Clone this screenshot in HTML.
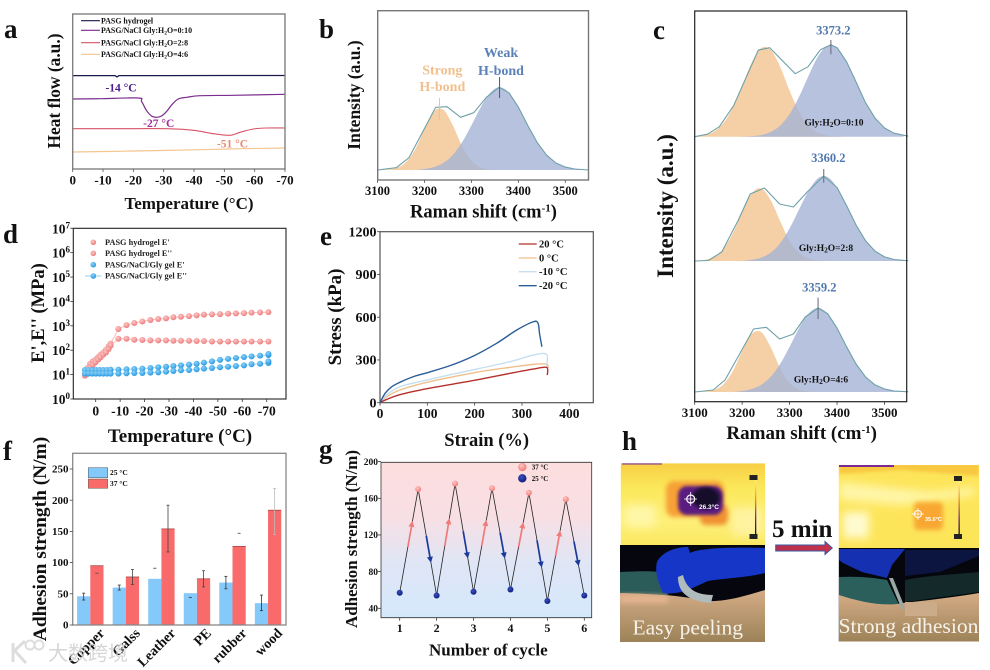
<!DOCTYPE html>
<html lang="en">
<head>
<meta charset="utf-8">
<title>Hydrogel characterization figure</title>
<style>
html,body{margin:0;padding:0;background:#fff;}
svg{display:block;font-family:"Liberation Serif","Noto Serif CJK SC",serif;filter:blur(0.3px);}
text{font-weight:bold;fill:#111;}
.nb{font-weight:normal;}
</style>
</head>
<body>
<svg id="fig" xmlns="http://www.w3.org/2000/svg" width="990" height="670" viewBox="0 0 990 670">
<defs>
  <radialGradient id="ballRed" cx="40%" cy="35%" r="70%"><stop offset="0" stop-color="#fbc8c6"/><stop offset="1" stop-color="#ec7676"/></radialGradient>
  <radialGradient id="ballBlue" cx="40%" cy="35%" r="70%"><stop offset="0" stop-color="#8ed2f6"/><stop offset="1" stop-color="#1f94e2"/></radialGradient>
  <radialGradient id="ballNavy" cx="40%" cy="35%" r="70%"><stop offset="0" stop-color="#3a50c0"/><stop offset="1" stop-color="#0b1a78"/></radialGradient>
  <radialGradient id="ballPink" cx="40%" cy="35%" r="70%"><stop offset="0" stop-color="#fcc8c4"/><stop offset="1" stop-color="#f27474"/></radialGradient>
  <linearGradient id="gBg" x1="0" y1="0" x2="0" y2="1"><stop offset="0" stop-color="#fddede"/><stop offset="0.35" stop-color="#f8dfe4"/><stop offset="0.65" stop-color="#dfe6f6"/><stop offset="1" stop-color="#d4e8fb"/></linearGradient>
  <linearGradient id="arrowGrad" x1="0" y1="0" x2="1" y2="0"><stop offset="0" stop-color="#b8304e"/><stop offset="1" stop-color="#c8304a"/></linearGradient>
  <linearGradient id="skinL" x1="0" y1="0" x2="0" y2="1"><stop offset="0" stop-color="#d4ac86"/><stop offset="1" stop-color="#9c8258"/></linearGradient>
  <linearGradient id="thermL" x1="0" y1="0" x2="0" y2="1"><stop offset="0" stop-color="#f8cf45"/><stop offset="0.3" stop-color="#fbe85a"/><stop offset="0.7" stop-color="#fdf07a"/><stop offset="1" stop-color="#fbe860"/></linearGradient>
  <linearGradient id="scaleBar" x1="0" y1="0" x2="0" y2="1"><stop offset="0" stop-color="#fff7a0"/><stop offset="0.35" stop-color="#f09030"/><stop offset="0.7" stop-color="#6a2a80"/><stop offset="1" stop-color="#111"/></linearGradient>
  <filter id="blur2" x="-40%" y="-40%" width="180%" height="180%"><feGaussianBlur stdDeviation="2.5"/></filter>
  <filter id="blur3" x="-50%" y="-50%" width="200%" height="200%"><feGaussianBlur stdDeviation="4.5"/></filter>
  <filter id="blur1" x="-30%" y="-30%" width="160%" height="160%"><feGaussianBlur stdDeviation="1.5"/></filter>
  <clipPath id="clipT1"><rect x="620.7" y="463.3" width="144.3" height="81.7"/></clipPath>
  <clipPath id="clipP1"><rect x="620" y="545" width="145" height="97"/></clipPath>
  <clipPath id="clipT2"><rect x="838.7" y="465" width="140.3" height="83"/></clipPath>
  <clipPath id="clipP2"><rect x="838.7" y="548" width="140.3" height="93.5"/></clipPath>
</defs>
<rect x="0" y="0" width="990" height="670" fill="#fff"/>

<g font-size="27">
  <text x="4" y="38">a</text>
  <text x="319" y="38">b</text>
  <text x="653" y="39">c</text>
  <text x="3" y="243">d</text>
  <text x="320" y="245">e</text>
  <text x="3" y="460">f</text>
  <text x="319" y="458">g</text>
  <text x="622" y="450">h</text>
</g>

<!-- PANEL A -->
<g id="panelA">
  <g id="marksA"></g>
  <rect x="72.7" y="14" width="212.3" height="155" fill="none" stroke="#808080" stroke-width="1.4"/>
  <g id="ticksA"></g>
  <text x="189" y="209" font-size="17" text-anchor="middle">Temperature (°C)</text>
  <text transform="translate(60,91) rotate(-90)" font-size="17.4" text-anchor="middle">Heat flow (a.u.)</text>
  <g font-size="7.9">
    <line x1="81" x2="100" y1="20.7" y2="20.7" stroke="#1a1a4a" stroke-width="1.1"/>
    <text x="101" y="23.4">PASG hydrogel</text>
    <line x1="81" x2="100" y1="30.3" y2="30.3" stroke="#7b2d8e" stroke-width="1.1"/>
    <text x="101" y="33">PASG/NaCl Gly:H<tspan dy="1.5" font-size="5.5">2</tspan><tspan dy="-1.5">O=0:10</tspan></text>
    <line x1="81" x2="100" y1="42.7" y2="42.7" stroke="#d8546a" stroke-width="1.1"/>
    <text x="101" y="45.4">PASG/NaCl Gly:H<tspan dy="1.5" font-size="5.5">2</tspan><tspan dy="-1.5">O=2:8</tspan></text>
    <line x1="81" x2="100" y1="54.3" y2="54.3" stroke="#f4c690" stroke-width="1.1"/>
    <text x="101" y="57">PASG/NaCl Gly:H<tspan dy="1.5" font-size="5.5">2</tspan><tspan dy="-1.5">O=4:6</tspan></text>
  </g>
  <text x="121" y="91.5" font-size="11.5" text-anchor="middle" style="fill:#4a1a8c">-14 °C</text>
  <text x="158.7" y="127" font-size="11.5" text-anchor="middle" style="fill:#a0309a">-27 °C</text>
  <text x="232.5" y="147.5" font-size="11.5" text-anchor="middle" style="fill:#e88a70">-51 °C</text>
</g>

<!-- PANEL B -->
<g id="panelB">
  <g id="marksB"></g>
  <rect x="377.7" y="10.7" width="210.8" height="169.3" fill="none" stroke="#777" stroke-width="1.4"/>
  <g id="ticksB"></g>
  <text x="483.5" y="217.5" font-size="18.5" text-anchor="middle">Raman shift (cm<tspan dy="-6" font-size="11">-1</tspan><tspan dy="6">)</tspan></text>
  <text transform="translate(360,95) rotate(-90)" font-size="17.5" text-anchor="middle">Intensity (a.u.)</text>
  <g font-size="14" text-anchor="middle">
    <text x="442.3" y="74.5" style="fill:#f0c08e">Strong</text>
    <text x="442.3" y="91" style="fill:#f0c08e">H-bond</text>
    <text x="501" y="57" style="fill:#5b82b8">Weak</text>
    <text x="501" y="75" style="fill:#5b82b8">H-bond</text>
  </g>
</g>

<!-- PANEL C -->
<g id="panelC">
  <g id="marksC"></g>
  <rect x="694.7" y="11" width="212" height="390.7" fill="none" stroke="#222" stroke-width="1.2"/>
  <g id="ticksC"></g>
  <text x="801.7" y="439" font-size="19" text-anchor="middle">Raman shift (cm<tspan dy="-6" font-size="11">-1</tspan><tspan dy="6">)</tspan></text>
  <text transform="translate(673,206) rotate(-90)" font-size="23" text-anchor="middle">Intensity (a.u.)</text>
  <g font-size="12.5" text-anchor="middle" style="fill:#4f78ae">
    <text x="833.3" y="34.5" style="fill:#4f78ae">3373.2</text>
    <text x="828.3" y="162" style="fill:#4f78ae">3360.2</text>
    <text x="819.3" y="291.5" style="fill:#4f78ae">3359.2</text>
  </g>
  <g font-size="9.5" text-anchor="middle">
    <text x="834" y="125.5">Gly:H<tspan dy="1.5" font-size="7">2</tspan><tspan dy="-1.5">O=0:10</tspan></text>
    <text x="826" y="251">Gly:H<tspan dy="1.5" font-size="7">2</tspan><tspan dy="-1.5">O=2:8</tspan></text>
    <text x="821" y="382.5">Gly:H<tspan dy="1.5" font-size="7">2</tspan><tspan dy="-1.5">O=4:6</tspan></text>
  </g>
</g>

<!-- PANEL D -->
<g id="panelD">
  <rect x="73.3" y="228.3" width="212.7" height="170.7" fill="none" stroke="#222" stroke-width="1.1"/>
  <g id="marksD"></g>
  <g id="ticksD"></g>
  <text x="180" y="442" font-size="19" text-anchor="middle">Temperature (°C)</text>
  <text transform="translate(44,313) rotate(-90)" font-size="18.5" text-anchor="middle">E',E'' (MPa)</text>
  <g font-size="8.3">
    <circle cx="93.3" cy="242.3" r="2.8" fill="url(#ballRed)"/>
    <text x="105" y="245" style="fill:#222">PASG hydrogel E'</text>
    <circle cx="93.3" cy="253.3" r="2.8" fill="url(#ballRed)"/>
    <text x="105" y="256" style="fill:#222">PASG hydrogel E''</text>
    <circle cx="93.3" cy="264.7" r="2.8" fill="url(#ballBlue)"/>
    <text x="105" y="267.4" style="fill:#222">PASG/NaCl/Gly gel E'</text>
    <line x1="85" x2="101.5" y1="276" y2="276" stroke="#a8dcf5" stroke-width="1.2"/>
    <circle cx="93.3" cy="276" r="2.8" fill="url(#ballBlue)"/>
    <text x="105" y="278.7" style="fill:#222">PASG/NaCl/Gly gel E''</text>
  </g>
</g>

<!-- PANEL E -->
<g id="panelE">
  <rect x="380" y="231.7" width="213.3" height="171" fill="none" stroke="#555" stroke-width="1.2"/>
  <g id="marksE"></g>
  <g id="ticksE"></g>
  <text x="486.7" y="446" font-size="18.5" text-anchor="middle">Strain (%)</text>
  <text transform="translate(341,317) rotate(-90)" font-size="18.9" text-anchor="middle">Stress (kPa)</text>
  <g font-size="10.5">
    <line x1="518.7" x2="536.7" y1="244" y2="244" stroke="#b5302c" stroke-width="1.3"/>
    <text x="539" y="247.5">20 °C</text>
    <line x1="518.7" x2="536.7" y1="258" y2="258" stroke="#f0c08c" stroke-width="1.3"/>
    <text x="539" y="261.5">0 °C</text>
    <line x1="518.7" x2="536.7" y1="271.7" y2="271.7" stroke="#c6dff0" stroke-width="1.3"/>
    <text x="539" y="275.2">-10 °C</text>
    <line x1="518.7" x2="536.7" y1="285.7" y2="285.7" stroke="#2b5d96" stroke-width="1.3"/>
    <text x="539" y="289.2">-20 °C</text>
  </g>
</g>

<!-- PANEL F -->
<g id="panelF">
  <g id="marksF"></g>
  <rect x="72.7" y="453.3" width="213.3" height="171.7" fill="none" stroke="#888" stroke-width="1.3"/>
  <g id="ticksF"></g>
  <text transform="translate(46,539) rotate(-90)" font-size="19.4" text-anchor="middle">Adhesion strength (N/m)</text>
  <g font-size="7.5">
    <rect x="88.3" y="467.7" width="19.4" height="10" fill="#85c9fb" stroke="#456" stroke-width="0.5"/>
    <text x="110" y="475.2">25 °C</text>
    <rect x="88.3" y="479" width="19.4" height="9.3" fill="#f96a6b" stroke="#654" stroke-width="0.5"/>
    <text x="110" y="486.2">37 °C</text>
  </g>
</g>

<!-- PANEL G -->
<g id="panelG">
  <rect x="381" y="462.3" width="210.7" height="155.4" fill="url(#gBg)"/>
  <path d="M381 462.3H591.7V617.7H381Z" fill="none" stroke="#333" stroke-width="0.8"/>
  <g id="marksG"></g>
  <g id="ticksG"></g>
  <text x="488.3" y="655.5" font-size="17" text-anchor="middle">Number of cycle</text>
  <text transform="translate(357,539) rotate(-90)" font-size="16.9" text-anchor="middle">Adhesion strength (N/m)</text>
  <g font-size="7">
    <circle cx="522.3" cy="467" r="4.2" fill="url(#ballPink)"/>
    <text x="531.7" y="469.6">37 °C</text>
    <circle cx="522.3" cy="478.3" r="4.2" fill="url(#ballNavy)"/>
    <text x="531.7" y="481">25 °C</text>
  </g>
</g>

<!-- PANEL H -->
<g id="panelH">
  <g clip-path="url(#clipT1)">
    <rect x="620.7" y="463.3" width="144.3" height="81.7" fill="url(#thermL)"/>
    <rect x="622" y="463.3" width="40" height="1.2" fill="#7a2a90"/>
    <rect x="625" y="505" width="30" height="22" fill="#fff7a8" filter="url(#blur3)"/>
    <rect x="732" y="508" width="30" height="28" fill="#fff3a0" filter="url(#blur3)"/>
    <rect x="666" y="481" width="58" height="36" rx="8" fill="#f6a035" filter="url(#blur2)"/>
    <rect x="700" y="505" width="28" height="20" rx="6" fill="#f09030" filter="url(#blur2)"/>
    <rect x="678" y="486" width="45" height="29" rx="9" fill="#5a1a80" filter="url(#blur1)"/>
    <ellipse cx="706" cy="498" rx="14" ry="11" fill="#14102a" filter="url(#blur1)"/>
    <circle cx="690.7" cy="499" r="4" fill="none" stroke="#fff" stroke-width="1.2"/>
    <path d="M684 499H697M690.7 492V506" stroke="#fff" stroke-width="0.8"/>
    <text x="699" y="509" font-size="6.5" style="fill:#fff;font-family:'Liberation Sans',sans-serif">26.3°C</text>
    <rect x="755" y="479" width="1.3" height="56" fill="url(#scaleBar)"/>
    <rect x="749.5" y="475" width="8" height="5" fill="#222"/>
    <rect x="749.5" y="534" width="8" height="5" fill="#222"/>
  </g>
  <g clip-path="url(#clipP1)">
    <rect x="620" y="545" width="145" height="97" fill="#06060e"/>
    <path d="M620 572C640 571 650 571 660 572L668 595H620Z" fill="#2c5c5a"/>
    <path d="M620 593C650 594 680 595 700 600C720 604 745 596 765 590V642H620Z" fill="url(#skinL)"/>
    <path d="M620 595C635 594 650 595 668 596V603H620Z" fill="#e4b490" filter="url(#blur2)"/>
    <path d="M657 562C662 552 675 547 688 547L690 553C700 548 730 547 765 548V573C745 578 725 578 708 581L688 590C680 593 670 594 663 593C660 585 654 575 657 562Z" fill="#1636c8"/>
    <path d="M678 577C678 590 685 601 711 603L713 595C695 595 686 588 683 575Z" fill="#b0bcbc"/>
    <text x="632.5" y="634.5" font-size="21.5" class="nb" style="font-weight:normal;fill:#f6f2ea">Easy peeling</text>
  </g>
  <g clip-path="url(#clipT2)">
    <rect x="838.7" y="465" width="140.3" height="83" fill="#fde55a"/>
    <path d="M839 463H979V476L900 470L839 474Z" fill="#f8c840" filter="url(#blur1)"/>
    <rect x="839" y="465" width="55" height="2" fill="#7a2a90"/>
    <path d="M839 482L930 492L975 487L975 495L900 505L839 500Z" fill="#fff6a8" filter="url(#blur3)"/>
    <rect x="843" y="512" width="26" height="26" fill="#fffbd0" filter="url(#blur3)"/>
    <rect x="914" y="502" width="29" height="28" rx="4" fill="#f8a830" filter="url(#blur2)"/>
    <circle cx="918" cy="514" r="3.5" fill="none" stroke="#fff" stroke-width="1"/>
    <path d="M912 514H924M918 508V520" stroke="#fff" stroke-width="0.7"/>
    <text x="925" y="521" font-size="5.5" style="fill:#fff;font-family:'Liberation Sans',sans-serif">35.6°C</text>
    <rect x="958.5" y="480" width="1.3" height="56" fill="url(#scaleBar)"/>
    <rect x="954" y="476" width="8" height="5" fill="#222"/>
    <rect x="954" y="534" width="8" height="5" fill="#222"/>
  </g>
  <g clip-path="url(#clipP2)">
    <rect x="838.7" y="548" width="140.3" height="93.5" fill="#05070c"/>
    <path d="M839 549H905L892 565L887 578L862 572L843 563L839 560Z" fill="#1530b0"/>
    <path d="M905 550H979V556L940 572L905 576Z" fill="#0c1440"/>
    <path d="M839 577C860 576 875 578 887 580L900 607C880 606 855 602 839 595Z" fill="#2b5f5c"/>
    <path d="M905 580C930 575 960 574 979 572V592L905 602Z" fill="#142a2a"/>
    <path d="M839 595C860 602 885 607 903 603C930 600 955 597 979 593V642H839Z" fill="url(#skinL)"/>
    <rect x="905" y="602" width="32" height="14" fill="#ccab8a"/>
    <path d="M889 578L893 578L905 608L902 610Z" fill="#9aa8a4"/>
    <text x="838.5" y="633" font-size="21.5" class="nb" style="font-weight:normal;fill:#f6f2ea" textLength="140" lengthAdjust="spacingAndGlyphs">Strong adhesion</text>
  </g>
  <text x="772" y="537" font-size="25">5 min</text>
  <path d="M775.7 545H825V541.5L832.3 548L825 554.5V551H775.7Z" fill="url(#arrowGrad)" stroke="#3a5aa0" stroke-width="1"/>
</g>

<g id="watermark" opacity="0.85">
  <path d="M13 643V662M13 652L25 641M15 651L26 663" stroke="#d8d8d8" stroke-width="3" fill="none"/>
  <circle cx="30" cy="645" r="4.5" fill="none" stroke="#d8d8d8" stroke-width="2"/>
  <circle cx="39" cy="645" r="4.5" fill="none" stroke="#d8d8d8" stroke-width="2"/>
  <text x="48" y="660" font-size="20" style="font-family:'Noto Sans CJK SC',sans-serif;font-weight:normal;fill:#d0d0d0">大数跨境</text>
</g>

<script>
// ---- Panel a data: heat flow curves ----
const dscTicks = [0, -10, -20, -30, -40, -50, -60, -70];
const dscHydrogelT = [0, -14, -14.6, -15.2, -30, -50, -70];
const dscHydrogelHF = [93.4, 93.4, 92, 93.4, 93.4, 93.5, 93.5];
const dsc010T = [0, -9, -21.6, -22.7, -24.3, -26, -27.6, -29.3, -31, -32.7, -34.8, -37.6, -42, -53, -70];
const dsc010HF = [70, 70.3, 71, 67.7, 58.7, 53, 51.7, 53, 57.7, 64.3, 70, 71.7, 73.3, 73.7, 74.7];
const dsc28T = [0, -15, -31, -39.8, -46.4, -51.9, -55.2, -59.6, -64, -70];
const dsc28HF = [40.3, 40.3, 40.3, 38.7, 35.3, 33.7, 36.7, 40, 41, 41];
const dsc46T = [0, -20, -42, -56, -70];
const dsc46HF = [17, 18, 19.3, 20.3, 21];

// ---- Panels b and c data: Raman deconvolution ----
const ramanTicks = [3100, 3200, 3300, 3400, 3500];
const ramanShift = [3100,3120,3140,3160,3180,3200,3220,3240,3260,3280,3300,3320,3340,3360,3380,3400,3420,3440,3460,3480,3500,3520,3540];
const strongB = [0,.4,2,7.5,20.5,40.8,58.5,60.4,45,24,9.4,2.6,.5,0,0,0,0,0,0,0,0,0,0];
const weakB = [0,0,0,0,0,1,2.9,7,14.9,27.6,44.6,62.9,77.2,82.7,77.2,62.9,44.6,27.6,14.9,7,2.9,1,.3];
const fitShiftB = [3100,3140,3167,3224,3248,3277,3305,3332,3359,3380,3400,3420,3440,3460,3480,3500,3520,3550];
const fitB = [0,2.3,12.3,62.7,63.3,52.7,57.3,72.7,82.7,77.2,62.9,44.6,27.6,14.9,7,2.9,1,0];
const strongC1 = [.4,1.6,5,13.3,28.7,51,74,88.6,86.8,70,46,25,11,4,1.2,.3,0,0,0,0,0,0,0];
const weakC1 = [0,0,0,0,0,.1,.5,1.7,4.7,11,22.7,40,61,80.4,91,89,75,54.8,34,18.6,8.7,3.5,1.2];
const fitShiftC1 = [3100,3127,3152,3182,3234,3258,3312,3339,3365,3387,3400,3420,3440,3460,3480,3500,3520,3550];
const fitC1 = [0,2.5,10,31,86.6,89,63,70,87,92,89,75,54.8,34,18.6,8.7,3.5,.5];
const strongC2 = [.2,1.1,4.1,12,27.4,48.7,67.4,72.6,61,40,20,8,2.5,.6,.1,0,0,0,0,0,0,0,0];
const weakC2 = [0,0,0,0,0,0,1.2,3.4,8.3,17.8,32.6,51.6,70.3,82.8,84,73.5,55.5,36,20.3,9.9,4.1,1.5,.4];
const fitShiftC2 = [3100,3129,3157,3192,3217,3247,3279,3308,3337,3372,3400,3420,3440,3460,3480,3500,3520,3550];
const fitC2 = [0,.5,9,41,67,73,57,54,69,85,73.5,55.5,36,20.3,9.9,4.1,1.5,.2];
const strongC3 = [0,.4,2,7.5,20.5,41,58,60,45,24,9,2.6,.5,0,0,0,0,0,0,0,0,0,0];
const weakC3 = [0,0,0,0,0,1,3,7.1,15.1,28,45.3,63.9,78.4,84,78.4,63.9,45.3,28,15.1,7.1,3,1,.3];
const fitShiftC3 = [3100,3139,3164,3224,3251,3279,3308,3333,3360,3380,3400,3420,3440,3460,3480,3500,3520,3550];
const fitC3 = [0,2,12,63,64.7,53,58,75,84,78.4,63.9,45.3,28,15.1,7.1,3,1,.2];

// ---- Panel d data: storage/loss modulus ----
const modTicksX = [0, -10, -20, -30, -40, -50, -60, -70];
const modDecades = [0, 1, 2, 3, 4, 5, 6, 7];
const tempHydrogel = [4.4,3.4,2.3,1.2,.1,-1,-2,-3.1,-4.2,-5.3,-6.1,-9.3,-12.6,-15.8,-19.1,-22.4,-25.6,-28.8,-31.8,-34.9,-38.2,-41.3,-44.3,-47.6,-50.9,-54.2,-57.4,-60.7,-63.8,-67.3,-70.7];
const tempGel = [4.4,2.9,1.4,-.1,-1.6,-3.1,-4.6,-6.1,-9.3,-12.6,-15.8,-19.1,-22.4,-25.6,-28.8,-31.8,-34.9,-38.2,-41.3,-44.3,-47.6,-50.9,-54.2,-57.4,-60.7,-63.8,-67.3,-70.7,-70.7];
const hydrogelE1 = [9.1,18.7,28,35,41,53,66,81,105,145,186,740,1070,1300,1510,1730,1900,2030,2240,2360,2510,2690,2880,2950,3020,3160,3240,3310,3470,3550,3630];
const hydrogelE2 = [9.1,13.7,18.7,25,32,41,51,66,81,112,155,295,295,269,263,254,254,254,245,245,245,240,240,229,229,229,229,229,229,229,229];
const gelE1 = [15.5,15.5,15.5,15.5,15.5,15.5,15.5,16,16,16.5,17,17.6,18.7,20,21,22.6,24,25.7,28,31,35,40,44,48,53,56,60,64,70];
const gelE2 = [11,11,11,11,11,11,11,11,11,11.3,11.7,11.7,12,12.4,13.2,14.1,15,15.5,16.5,17.6,18.7,20,21,22.6,24,26.5,28,30,35];

// ---- Panel e data: stress-strain ----
const strainTicks = [0, 100, 200, 300, 400];
const stressTicks = [0, 300, 600, 900, 1200];
const strainM20 = [0,10.6,25,42,70,99,148,197,246,289,324,334,337,342];
const stressM20 = [0,65,112,143,182,210,260,327,416,510,568,557,487,393];
const strainM10 = [0,14,42,99,155,211,275,324,352,352];
const stressM10 = [0,54,112,159,201,241,288,334,339,253];
const strain0 = [0,14,42,99,155,211,275,324,352,355];
const stress0 = [0,42,89,143,182,218,248,269,271,241];
const strain20 = [0,14,42,99,155,211,275,324,352,353.5];
const stress20 = [0,23,56,98,131,164,206,236,248,194];

// ---- Panel f data: adhesion bars ----
const substrates = ["Copper", "Galss", "Leather", "PE", "rubber", "wood"];
const adhesionTicks = [0, 50, 100, 150, 200, 250];
const bars25 = [46, 60, 74, 51, 68, 35];
const bars37 = [95, 77, 154, 74, 126, 184];
const high25 = [51, 64, 91, null, 78, 48];
const low25 = [40, 56, null, 44, 58, 23];
const high37 = [null, 89, 192, 87, 147, 219];
const low37 = [83, 65, 117, 61, null, 145];

// ---- Panel g data: cycling ----
const cycleTicks = [1, 2, 3, 4, 5, 6];
const cycleStrengthTicks = [40, 80, 120, 160, 200];
const cycle25 = [1, 2, 3, 4, 5, 6];
const strength25 = [57, 54, 58, 60.5, 48, 54];
const cycle37 = [1.5, 2.5, 3.5, 4.5, 5.5];
const strength37 = [170, 176, 171, 166, 159];

const SVGNS = "http://www.w3.org/2000/svg";
function mk(tag, attrs, parent) {
  const e = document.createElementNS(SVGNS, tag);
  for (const k in attrs) e.setAttribute(k, attrs[k]);
  parent.appendChild(e);
  return e;
}
function byId(i) { return document.getElementById(i); }

function polyPath(px, py) {
  return px.map((x, i) => (i ? "L" : "M") + x.toFixed(2) + " " + py[i].toFixed(2)).join("");
}
function smoothPath(px, py) {
  let d = "M" + px[0].toFixed(2) + " " + py[0].toFixed(2);
  for (let i = 0; i < px.length - 1; i++) {
    const x0 = px[Math.max(i - 1, 0)], y0 = py[Math.max(i - 1, 0)];
    const x1 = px[i], y1 = py[i], x2 = px[i + 1], y2 = py[i + 1];
    const x3 = px[Math.min(i + 2, px.length - 1)], y3 = py[Math.min(i + 2, px.length - 1)];
    d += "C" + (x1 + (x2 - x0) / 6).toFixed(2) + " " + (y1 + (y2 - y0) / 6).toFixed(2) + " " +
      (x2 - (x3 - x1) / 6).toFixed(2) + " " + (y2 - (y3 - y1) / 6).toFixed(2) + " " +
      x2.toFixed(2) + " " + y2.toFixed(2);
  }
  return d;
}
function tickX(parent, vals, sx, yAxis, yLab, size, name, stroke) {
  vals.forEach(v => {
    const l = mk("line", {x1: sx(v), x2: sx(v), y1: yAxis, y2: yAxis + 3, stroke: stroke, "stroke-width": 0.8}, parent);
    
    
    const t = mk("text", {x: sx(v), y: yLab, "font-size": size, "text-anchor": "middle"}, parent);
    t.textContent = String(v);
    
    
  });
}
function tickY(parent, vals, sy, xAxis, xLab, size, name, stroke) {
  vals.forEach(v => {
    const l = mk("line", {x1: xAxis - 3, x2: xAxis, y1: sy(v), y2: sy(v), stroke: stroke, "stroke-width": 0.8}, parent);
    
    
    const t = mk("text", {x: xLab, y: sy(v) + size * 0.33, "font-size": size, "text-anchor": "end"}, parent);
    t.textContent = String(v);
    
    
  });
}
function curve(parent, xs, ys, sx, sy, color, width, name, smooth) {
  const px = xs.map(sx), py = ys.map(sy);
  const p = mk("path", {d: smooth ? smoothPath(px, py) : polyPath(px, py), fill: "none", stroke: color, "stroke-width": width, "stroke-linejoin": "round"}, parent);
  
  
  return p;
}

// ---- Panel a ----
const xA = t => 72.7 + (-t) * 212.3 / 70;
const yA = v => 169 - v;
curve(byId("marksA"), dscHydrogelT, dscHydrogelHF, xA, yA, "#1a1a4a", 1.3, "curve-hydrogel", false);
curve(byId("marksA"), dsc010T, dsc010HF, xA, yA, "#7b2d8e", 1.2, "curve-gly-0-10", true);
curve(byId("marksA"), dsc28T, dsc28HF, xA, yA, "#d8546a", 1.1, "curve-gly-2-8", true);
curve(byId("marksA"), dsc46T, dsc46HF, xA, yA, "#f4c690", 1.2, "curve-gly-4-6", true);
tickX(byId("ticksA"), dscTicks, xA, 169, 184.5, 13, "dsc-x", "#555");

// ---- Panels b, c ----
function drawRaman(parent, sx, baseY, strong, weak, fitX, fit, key) {
  const sy = v => baseY - v;
  const px = ramanShift.map(sx);
  const strongY = strong.map(sy), weakY = weak.map(sy);
  const x0 = px[0].toFixed(2), xEnd = px[px.length - 1].toFixed(2);
  const close = "L" + xEnd + " " + baseY + "L" + x0 + " " + baseY + "Z";
  const s = mk("path", {d: smoothPath(px, strongY) + close, fill: "#f5cfa5"}, parent);
  
  
  const w = mk("path", {d: smoothPath(px, weakY) + close, fill: "#a5b3d6", "fill-opacity": 0.8}, parent);
  
  
  curve(parent, fitX, fit, sx, sy, "#6ea0a8", 1.1, key + "-fit-line", false);
}
const xB = s => 377.5 + (s - 3100) * 0.4695;
const baseB = 170;
drawRaman(byId("marksB"), xB, baseB, strongB, weakB, fitShiftB, fitB, "raman");
const strongPeakB = [3232, 62, 50];
const weakPeakB = [3360, 93, 72];
const strongTick = mk("line", {x1: xB(strongPeakB[0]), x2: xB(strongPeakB[0]), y1: baseB - strongPeakB[1] - 10, y2: baseB - strongPeakB[2], stroke: "#f0c08e", "stroke-width": 1}, byId("marksB"));


const weakTick = mk("line", {x1: xB(weakPeakB[0]), x2: xB(weakPeakB[0]), y1: baseB - weakPeakB[1], y2: baseB - weakPeakB[2], stroke: "#3a5a8a", "stroke-width": 1}, byId("marksB"));


tickX(byId("ticksB"), ramanTicks, xB, 180, 195, 12.5, "raman-x", "#555");

const xC = s => 694.7 + (s - 3100) * 0.4745;
const baselinesC = [136.7, 261, 392];
drawRaman(byId("marksC"), xC, baselinesC[0], strongC1, weakC1, fitShiftC1, fitC1, "stack-0-10");
drawRaman(byId("marksC"), xC, baselinesC[1], strongC2, weakC2, fitShiftC2, fitC2, "stack-2-8");
drawRaman(byId("marksC"), xC, baselinesC[2], strongC3, weakC3, fitShiftC3, fitC3, "stack-4-6");
const peakShiftC = [3387, 3372, 3360];
const peakTopC = [96.7, 92, 94.3];
const peakBottomC = [82.4, 78.3, 73];
peakShiftC.forEach((s, i) => {
  const l = mk("line", {x1: xC(s), x2: xC(s), y1: baselinesC[i] - peakTopC[i], y2: baselinesC[i] - peakBottomC[i], stroke: "#667", "stroke-width": 1}, byId("marksC"));
  
  
});
tickX(byId("ticksC"), ramanTicks, xC, 401.7, 417, 13, "stack-x", "#333");

// ---- Panel d ----
const xD = t => 95.7 - t * 2.443;
const yD = v => 399 - Math.log10(v) * 24.39;
function modSeries(ts, vs, lineColor, ball, name) {
  const g = byId("marksD");
  curve(g, ts, vs, xD, yD, lineColor, 1, name + "-line", false);
  ts.forEach((t, i) => {
    const c = mk("circle", {cx: xD(t), cy: yD(vs[i]), r: 3, fill: ball}, g);
    
    
  });
}
modSeries(tempHydrogel, hydrogelE1, "#f9c0c0", "url(#ballRed)", "hydrogel-e1");
modSeries(tempHydrogel, hydrogelE2, "#f9c0c0", "url(#ballRed)", "hydrogel-e2");
modSeries(tempGel, gelE1, "#a8dcf5", "url(#ballBlue)", "gel-e1");
modSeries(tempGel, gelE2, "#a8dcf5", "url(#ballBlue)", "gel-e2");
tickX(byId("ticksD"), modTicksX, xD, 399, 415.5, 13.5, "modulus-x", "#333");
modDecades.forEach(n => {
  const y = 399 - n * 24.39;
  const l = mk("line", {x1: 70.3, x2: 73.3, y1: y, y2: y, stroke: "#333", "stroke-width": 0.8}, byId("ticksD"));
  
  
  const t = mk("text", {x: 52, y: y + 5, "font-size": 13.5}, byId("ticksD"));
  
  
  t.textContent = "10";
  const sup = mk("tspan", {dy: -5, "font-size": 9}, t);
  sup.textContent = String(n);
});

// ---- Panel e ----
const xE = s => 380 + s * 0.4733;
const yE = v => 402.7 - v * 171 / 1200;
curve(byId("marksE"), strain0, stress0, xE, yE, "#f0c08c", 1.4, "curve-0c", true);
curve(byId("marksE"), strainM10, stressM10, xE, yE, "#c6dff0", 1.4, "curve-minus-10c", true);
curve(byId("marksE"), strain20, stress20, xE, yE, "#b5302c", 1.4, "curve-20c", true);
curve(byId("marksE"), strainM20, stressM20, xE, yE, "#2b5d96", 1.4, "curve-minus-20c", true);
tickX(byId("ticksE"), strainTicks, xE, 402.7, 418, 13.5, "strain", "#444");
tickY(byId("ticksE"), stressTicks, yE, 380, 376.5, 14, "stress", "#444");

// ---- Panel f ----
const catF = i => 90.3 + i * 35.55;
const yF = v => 625 - v * 0.624;
const barW = 13.2;
function errMarks(cx, hi, lo, stemColor) {
  const g = byId("marksF");
  if (hi !== null && lo !== null) {
    const s = mk("line", {x1: cx, x2: cx, y1: yF(hi), y2: yF(lo), stroke: stemColor, "stroke-width": 0.8}, g);
    
    
  }
  [hi, lo].forEach(v => {
    if (v === null) return;
    const d = mk("line", {x1: cx - 1.5, x2: cx + 1.5, y1: yF(v), y2: yF(v), stroke: stemColor, "stroke-width": 0.8}, g);
    
    
  });
}
substrates.forEach((name, i) => {
  const g = byId("marksF");
  const c = catF(i);
  const a = mk("rect", {x: c - barW, y: yF(bars25[i]), width: barW, height: 625 - yF(bars25[i]), fill: "#85c9fb"}, g);
  
  
  const b = mk("rect", {x: c, y: yF(bars37[i]), width: barW, height: 625 - yF(bars37[i]), fill: "#f96a6b"}, g);
  
  
  const capTop = mk("line", {x1: c, x2: c + barW, y1: yF(bars37[i]), y2: yF(bars37[i]), stroke: "#a03c3c", "stroke-width": 0.7}, g);
  
  
  errMarks(c - barW / 2, high25[i], low25[i], "#333");
  errMarks(c + barW / 2, high37[i], low37[i], i === 5 ? "#bbb" : "#444");
  const t = mk("text", {transform: "translate(" + (c + 15) + ",634) rotate(-45)", "font-size": 14, "text-anchor": "end"}, byId("ticksF"));
  t.textContent = name;
  
  
});
tickY(byId("ticksF"), adhesionTicks, yF, 72.7, 68.5, 11, "adhesion-y", "#444");

// ---- Panel g ----
const xG = c => 399.7 + (c - 1) * 36.92;
const yG = v => 608.3 - (v - 40) * 0.9167;
const cycleX = [], cycleY = [];
cycle25.forEach((c, i) => {
  cycleX.push(c); cycleY.push(strength25[i]);
  if (i < cycle37.length) { cycleX.push(cycle37[i]); cycleY.push(strength37[i]); }
});
curve(byId("marksG"), cycleX, cycleY, xG, yG, "#222", 0.8, "cycling-line", false);
function arrowOn(x1, y1, x2, y2, color, name) {
  const g = byId("marksG");
  const ax = xG(x1) + (xG(x2) - xG(x1)) * 0.44, ay = yG(y1) + (yG(y2) - yG(y1)) * 0.44;
  const bx = xG(x1) + (xG(x2) - xG(x1)) * 0.66, by = yG(y1) + (yG(y2) - yG(y1)) * 0.66;
  const l = mk("line", {x1: ax, y1: ay, x2: bx, y2: by, stroke: color, "stroke-width": 1.7}, g);
  
  
  const dx = bx - ax, dy = by - ay, n = Math.hypot(dx, dy), ux = dx / n, uy = dy / n;
  const pts = [[bx + ux * 3.5, by + uy * 3.5], [bx - uy * 3 - ux * 2.5, by + ux * 3 - uy * 2.5], [bx + uy * 3 - ux * 2.5, by - ux * 3 - uy * 2.5]];
  const h = mk("polygon", {points: pts.map(p => p[0].toFixed(2) + "," + p[1].toFixed(2)).join(" "), fill: color}, g);
  
  
}
cycle37.forEach((c, i) => {
  arrowOn(cycle25[i], strength25[i], c, strength37[i], "#f07a7a", "rising-arrow");
  arrowOn(c, strength37[i], cycle25[i + 1], strength25[i + 1], "#1a3a9a", "falling-arrow");
});
cycle25.forEach((c, i) => {
  const m = mk("circle", {cx: xG(c), cy: yG(strength25[i]), r: 3, fill: "url(#ballNavy)"}, byId("marksG"));
  
  
});
cycle37.forEach((c, i) => {
  const m = mk("circle", {cx: xG(c), cy: yG(strength37[i]), r: 3, fill: "url(#ballPink)"}, byId("marksG"));
  
  
});
tickX(byId("ticksG"), cycleTicks, xG, 617.7, 632, 12, "cycle-x", "#333");
tickY(byId("ticksG"), cycleStrengthTicks, yG, 381, 378, 9.5, "cycle-y", "#333");
</script>
</svg>
</body>
</html>
